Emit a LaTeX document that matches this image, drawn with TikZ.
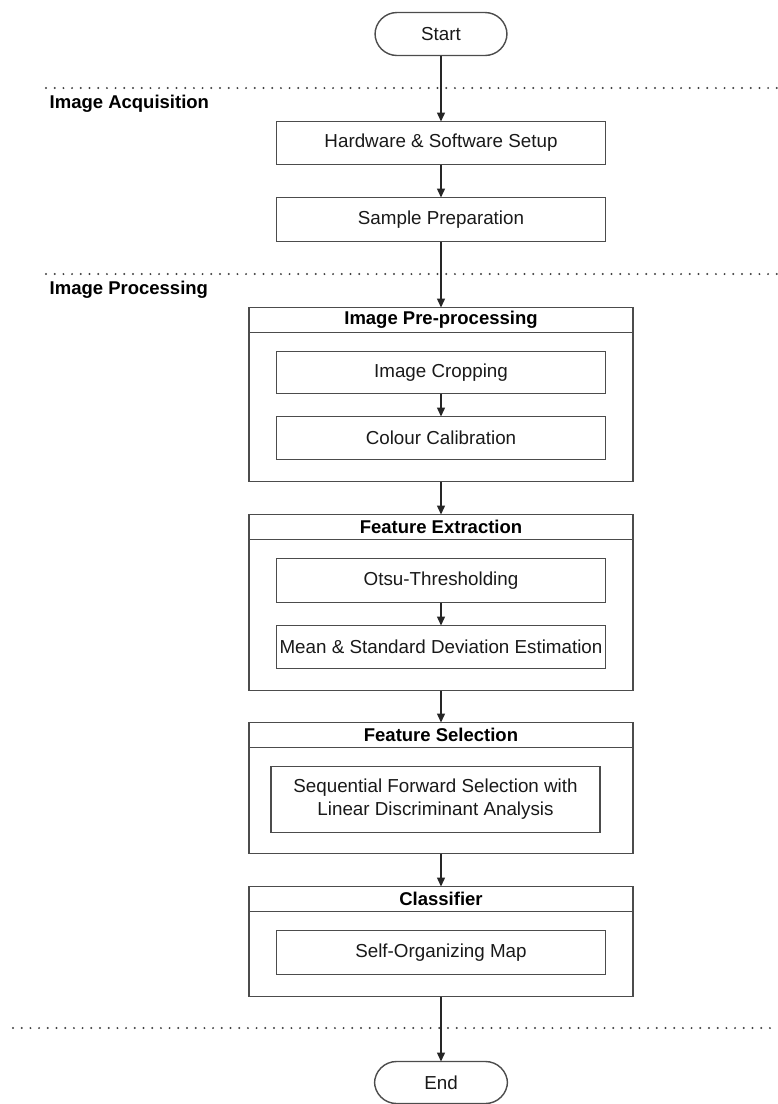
\documentclass[tikz,border=0pt]{standalone}
\usepackage{fontspec}
\setmainfont{Liberation Sans}
\usetikzlibrary{positioning,arrows.meta}

\begin{document}
\begin{tikzpicture}[x=1pt,y=-1pt,line width=1.4pt,color=black!70,
		font=\fontsize{18.8}{23}\selectfont,
		>={Triangle[length=9pt,width=8pt]},
		terminal/.style={draw,text=black!90,rounded corners=22pt,minimum width=132pt,minimum height=43pt,outer sep=0pt},
		stepbox/.style={draw,text=black!90,minimum width=329pt,minimum height=43pt,outer sep=0pt},
		grphead/.style={draw,text=black,minimum width=384pt,minimum height=25pt,outer sep=0pt,font=\fontsize{18.5}{23}\selectfont\bfseries},
		grpbody/.style={draw,minimum width=384pt,outer sep=0pt},
		phase/.style={anchor=west,inner sep=0pt,text=black,font=\fontsize{18.5}{23}\selectfont\bfseries},
		sep/.style={black!75,line width=2.2pt,line cap=round,dash pattern=on 0pt off 8.7pt},
		flow/.style={->,black!85}]
	\useasboundingbox (0,0) rectangle (778,1104);
	%phase separators + labels
		\draw[sep] (46,88) -- (778,88);
		\draw[sep] (46,274) -- (778,274);
		\draw[sep] (13,1028) -- (778,1028);
		\node[phase] (acq) at (49,104) {Image Acquisition};
		\node[phase] (proc) at (49,290) {Image Processing};
	%acquisition
		\node[terminal] (start) at (441,34) {Start};
		\node[stepbox,below=66pt of start] (hw) {Hardware \& Software Setup};
		\node[stepbox,below=33pt of hw,minimum height=44pt] (sample) {Sample Preparation};
	%pre-processing
		\node[grphead,below=66pt of sample] (prehd) {Image Pre-processing};
		\node[grpbody,below=0pt of prehd,minimum height=149pt] (pre) {};
		\node[stepbox,below=19pt of prehd,minimum height=42pt] (crop) {Image Cropping};
		\node[stepbox,below=23pt of crop] (calib) {Colour Calibration};
	%feature extraction
		\node[grphead,below=33pt of pre] (fehd) {Feature Extraction};
		\node[grpbody,below=0pt of fehd,minimum height=151pt] (fe) {};
		\node[stepbox,below=19pt of fehd,minimum height=44pt] (otsu) {Otsu-Thresholding};
		\node[stepbox,below=23pt of otsu] (mean) {Mean \& Standard Deviation Estimation};
	%feature selection
		\node[grphead,below=32pt of fe] (fshd) {Feature Selection};
		\node[grpbody,below=0pt of fshd,minimum height=106pt] (fs) {};
		\node[stepbox,below=19pt of fshd,xshift=-5.5pt,minimum height=66pt,align=center] (sfs) {Sequential Forward Selection with\\Linear Discriminant Analysis};
	%classifier
		\node[grphead,below=33pt of fs] (clhd) {Classifier};
		\node[grpbody,below=0pt of clhd,minimum height=85pt] (cl) {};
		\node[stepbox,below=19pt of clhd,minimum height=44pt] (som) {Self-Organizing Map};
		\node[terminal,below=65pt of cl,minimum width=133pt,minimum height=42pt] (end) {End};
	%arrows
		\draw[flow] (start) -- (hw);
		\draw[flow] (hw) -- (sample);
		\draw[flow] (sample) -- (prehd);
		\draw[flow] (crop) -- (calib);
		\draw[flow] (pre) -- (fehd);
		\draw[flow] (otsu) -- (mean);
		\draw[flow] (fe) -- (fshd);
		\draw[flow] (fs) -- (clhd);
		\draw[flow] (cl) -- (end);
\end{tikzpicture}
\end{document}
